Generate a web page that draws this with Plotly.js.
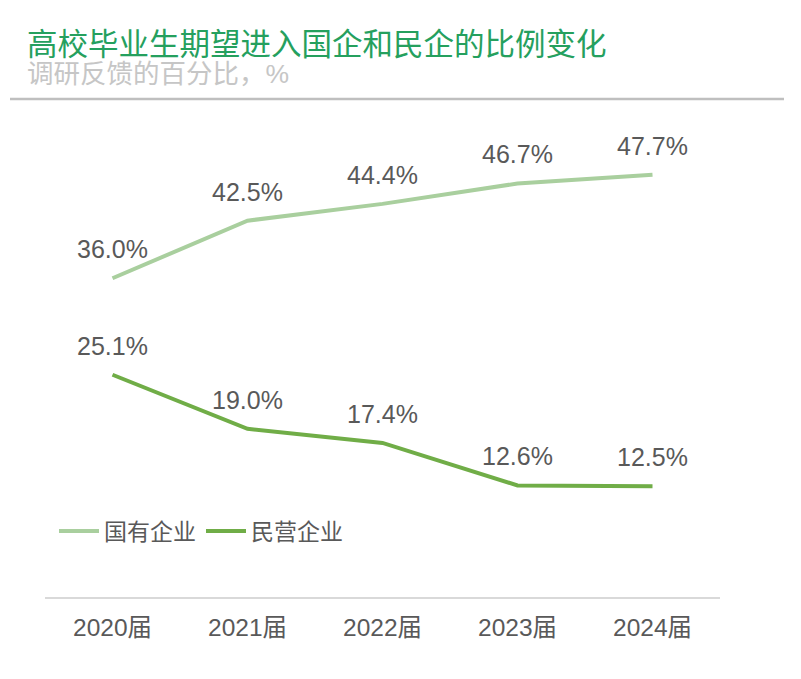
<!DOCTYPE html>
<html>
<head>
<meta charset="utf-8">
<script src="https://cdn.plot.ly/plotly-3.0.1.min.js"></script>
<style>html,body{margin:0;padding:0;background:#fff;}#chart{width:801px;height:679px;}</style>
</head>
<body>
<div id="chart"></div>
<script>
const categories = ['2020届', '2021届', '2022届', '2023届', '2024届'];
const seriesNames = ['国有企业', '民营企业'];
const stateOwned = [36.0, 42.5, 44.4, 46.7, 47.7];
const privateEnt = [25.1, 19.0, 17.4, 12.6, 12.5];

const W = 801, H = 679;
const M = {l: 45, r: 81, t: 110, b: 82, autoexpand: false};
const PW = W - M.l - M.r, PH = H - M.t - M.b;
const px2x = px => (px - M.l) / PW;
const px2y = py => (H - M.b - py) / PH;

const FONT = 'Liberation Sans, Arial, "Noto Sans CJK SC", sans-serif';
const colors = ['#a9cf9e', '#70ad47'];

const traces = [
  {x: categories, y: stateOwned, name: seriesNames[0], type: 'scatter', mode: 'lines',
   line: {color: colors[0], width: 4}, hoverinfo: 'skip'},
  {x: categories, y: privateEnt, name: seriesNames[1], type: 'scatter', mode: 'lines',
   line: {color: colors[1], width: 4}, hoverinfo: 'skip'}
];

const annotations = [];
[stateOwned, privateEnt].forEach(arr => {
  arr.forEach((v, i) => {
    annotations.push({x: categories[i], y: v, xref: 'x', yref: 'y', text: v.toFixed(1) + '%',
      showarrow: false, yanchor: 'bottom', xanchor: 'center', yshift: 13,
      font: {family: FONT, size: 25, color: '#595959'}});
  });
});
annotations.push({xref: 'paper', yref: 'paper', x: px2x(25), y: px2y(44), xanchor: 'left', yanchor: 'middle',
  text: '高校毕业生期望进入国企和民企的比例变化', showarrow: false,
  font: {family: FONT, size: 30.5, color: '#25a05e'}});
annotations.push({xref: 'paper', yref: 'paper', x: px2x(25), y: px2y(74), xanchor: 'left', yanchor: 'middle',
  text: '调研反馈的百分比，%', showarrow: false,
  font: {family: FONT, size: 26.5, color: '#c6c6c6'}});

const layout = {
  width: W, height: H,
  margin: M,
  paper_bgcolor: '#fff', plot_bgcolor: '#fff',
  showlegend: true,
  legend: {orientation: 'h', xref: 'container', yref: 'container', x: 54 / W, y: 1 - 531 / H,
    xanchor: 'left', yanchor: 'middle', font: {family: FONT, size: 23, color: '#595959'},
    bgcolor: 'rgba(0,0,0,0)', itemwidth: 40, tracegroupgap: 0},
  xaxis: {type: 'category', range: [-0.5, 4.5], showline: true, linecolor: '#d9d9d9', linewidth: 2,
    showgrid: false, zeroline: false, ticks: 'outside', ticklen: 8, tickcolor: 'rgba(0,0,0,0)',
    tickfont: {family: FONT, size: 24.5, color: '#595959'}, fixedrange: true},
  yaxis: {range: [0, 55], visible: false, showgrid: false, zeroline: false, fixedrange: true},
  shapes: [{type: 'line', xref: 'paper', yref: 'paper', x0: px2x(10), x1: px2x(784), y0: px2y(99), y1: px2y(99),
    line: {color: '#bfbfbf', width: 2.5}}],
  annotations: annotations
};

Plotly.newPlot('chart', traces, layout, {displayModeBar: false, staticPlot: true});
</script>
</body>
</html>
